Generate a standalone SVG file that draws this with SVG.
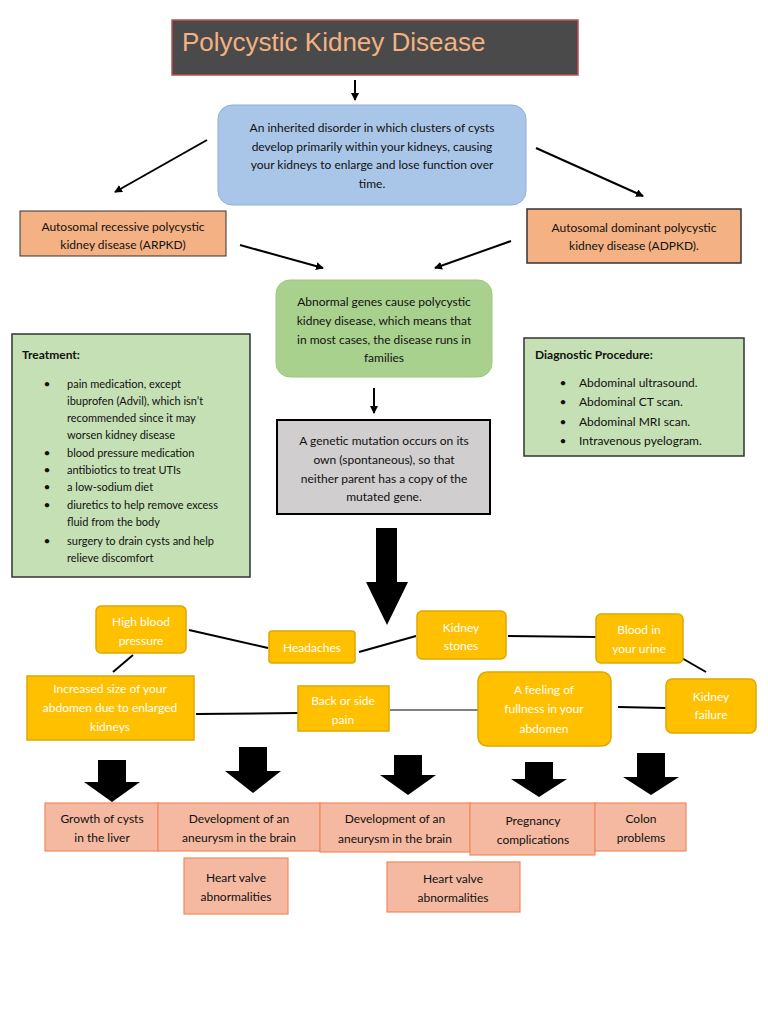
<svg xmlns="http://www.w3.org/2000/svg" width="768" height="1024" viewBox="0 0 768 1024">
<style>
text{font-family:Lato,"Open Sans","Liberation Sans",sans-serif;font-size:12px;fill:#111;text-anchor:middle}
.l{text-anchor:start}
.y text{fill:#fff}
.y rect{fill:#ffc000;stroke:#e0a800;stroke-width:1.5}
.p rect{fill:#f4b9a0;stroke:#ef8a5e;stroke-width:1.2}
.c line{stroke:#000;stroke-width:2}
.b{fill:#000}
</style>
<defs><marker id="ah" markerWidth="8" markerHeight="8" refX="7" refY="4" orient="auto" markerUnits="userSpaceOnUse"><path d="M0,0 L8,4 L0,8z" fill="#000"/></marker></defs>
<rect width="768" height="1024" fill="#fff"/>
<g id="title"><rect x="172" y="20" width="406" height="55" fill="#4a4a4a" stroke="#c0504d" stroke-width="1.5"/><text x="182" y="51" class="l" style="font-size:26px;fill:#f4b183;font-family:'Liberation Sans',sans-serif">Polycystic Kidney Disease</text></g>
<g id="connectors" class="c">
<line x1="355" y1="80" x2="355" y2="100" marker-end="url(#ah)"/>
<line x1="207" y1="140" x2="115" y2="192" marker-end="url(#ah)"/>
<line x1="536" y1="148" x2="643" y2="196" marker-end="url(#ah)"/>
<line x1="240" y1="245" x2="323" y2="268" marker-end="url(#ah)"/>
<line x1="511" y1="241" x2="435" y2="268" marker-end="url(#ah)"/>
<line x1="374" y1="388" x2="374" y2="413" marker-end="url(#ah)"/>
<line x1="189" y1="630" x2="268" y2="648"/><line x1="359" y1="652" x2="416" y2="636"/>
<line x1="508" y1="636" x2="596" y2="637"/><line x1="680" y1="657" x2="706" y2="672"/>
<line x1="133" y1="655" x2="113" y2="672"/><line x1="196" y1="714" x2="298" y2="713"/>
<line x1="390" y1="710" x2="478" y2="710" style="stroke-width:1"/><line x1="618" y1="707" x2="666" y2="708"/>
<path class="b" d="M376,528h21v54h11l-21,43l-21,-43h10z"/>
<path class="b" d="M98,760h28v22h14l-28,20l-28,-20h14z"/>
<path class="b" d="M239,747h28v24h14l-28,22l-28,-22h14z"/>
<path class="b" d="M394,755h28v20h14l-28,20l-28,-20h14z"/>
<path class="b" d="M525,762h28v17h14l-28,18l-28,-18h14z"/>
<path class="b" d="M637,753h28v24h14l-28,18l-28,-18h14z"/>
</g>
<g id="n1"><rect x="218" y="105" width="308" height="100" rx="14" fill="#a9c6e8" stroke="#8eb0dd"/>
<text x="372" y="132">An inherited disorder in which clusters of cysts</text><text x="372" y="151">develop primarily within your kidneys, causing</text><text x="372" y="169">your kidneys to enlarge and lose function over</text><text x="372" y="188">time.</text></g>
<g id="arpkd"><rect x="20" y="211" width="206" height="45" fill="#f4b183" stroke="#333"/><text x="123" y="231">Autosomal recessive polycystic</text><text x="123" y="249">kidney disease (ARPKD)</text></g>
<g id="adpkd"><rect x="527" y="209" width="214" height="54" fill="#f4b183" stroke="#333" stroke-width="1.5"/><text x="634" y="232">Autosomal dominant polycystic</text><text x="634" y="250">kidney disease (ADPKD).</text></g>
<g id="genes"><rect x="276" y="280" width="216" height="97" rx="14" fill="#a9d18e" stroke="#9cc77f"/><text x="384" y="306">Abnormal genes cause polycystic</text><text x="384" y="325">kidney disease, which means that</text><text x="384" y="344">in most cases, the disease runs in</text><text x="384" y="362">families</text></g>
<g id="mut"><rect x="277" y="420" width="213" height="94" fill="#d0cece" stroke="#000" stroke-width="2"/><text x="384" y="445">A genetic mutation occurs on its</text><text x="384" y="464">own (spontaneous), so that</text><text x="384" y="483">neither parent has a copy of the</text><text x="384" y="501">mutated gene.</text></g>
<g id="treat" style="font-size:11px"><rect x="12" y="334" width="238" height="243" fill="#c5e0b4" stroke="#333" stroke-width="1.5"/>
<text x="22" y="359" class="l" style="font-weight:bold">Treatment:</text>
<g style="font-size:11px">
<text x="47" y="388">•</text><text x="67" y="388" class="l" style="font-size:11px">pain medication, except</text>
<text x="67" y="405" class="l" style="font-size:11px">ibuprofen (Advil), which isn’t</text>
<text x="67" y="422" class="l" style="font-size:11px">recommended since it may</text>
<text x="67" y="439" class="l" style="font-size:11px">worsen kidney disease</text>
<text x="47" y="457">•</text><text x="67" y="457" class="l" style="font-size:11px">blood pressure medication</text>
<text x="47" y="474">•</text><text x="67" y="474" class="l" style="font-size:11px">antibiotics to treat UTIs</text>
<text x="47" y="491">•</text><text x="67" y="491" class="l" style="font-size:11px">a low-sodium diet</text>
<text x="47" y="509">•</text><text x="67" y="509" class="l" style="font-size:11px">diuretics to help remove excess</text>
<text x="67" y="526" class="l" style="font-size:11px">fluid from the body</text>
<text x="47" y="545">•</text><text x="67" y="545" class="l" style="font-size:11px">surgery to drain cysts and help</text>
<text x="67" y="562" class="l" style="font-size:11px">relieve discomfort</text></g></g>
<g id="diag"><rect x="524" y="338" width="220" height="118" fill="#c5e0b4" stroke="#333" stroke-width="1.5"/>
<text x="535" y="359" class="l" style="font-weight:bold">Diagnostic Procedure:</text>
<text x="563" y="387">•</text><text x="579" y="387" class="l">Abdominal ultrasound.</text>
<text x="563" y="406">•</text><text x="579" y="406" class="l">Abdominal CT scan.</text>
<text x="563" y="426">•</text><text x="579" y="426" class="l">Abdominal MRI scan.</text>
<text x="563" y="445">•</text><text x="579" y="445" class="l">Intravenous pyelogram.</text></g>
<g class="y">
<g id="hbp"><rect x="96" y="606" width="90" height="47" rx="5"/><text x="141" y="626">High blood</text><text x="141" y="645">pressure</text></g>
<g id="head"><rect x="269" y="631" width="86" height="32" rx="3"/><text x="312" y="652">Headaches</text></g>
<g id="stones"><rect x="417" y="611" width="89" height="48" rx="5"/><text x="461" y="632">Kidney</text><text x="461" y="650">stones</text></g>
<g id="urine"><rect x="596" y="614" width="87" height="49" rx="5"/><text x="639" y="634">Blood in</text><text x="639" y="653">your urine</text></g>
<g id="abd"><rect x="27" y="676" width="167" height="64"/><text x="110" y="693">Increased size of your</text><text x="110" y="712">abdomen due to enlarged</text><text x="110" y="731">kidneys</text></g>
<g id="back"><rect x="298" y="686" width="91" height="45"/><text x="343" y="705">Back or side</text><text x="343" y="724">pain</text></g>
<g id="full"><rect x="478" y="672" width="133" height="74" rx="9"/><text x="544" y="694">A feeling of</text><text x="544" y="713">fullness in your</text><text x="544" y="733">abdomen</text></g>
<g id="fail"><rect x="666" y="679" width="90" height="54" rx="6"/><text x="711" y="701">Kidney</text><text x="711" y="719">failure</text></g>
</g>
<g class="p">
<g id="liver"><rect x="45" y="803" width="113" height="48"/><text x="102" y="823">Growth of cysts</text><text x="102" y="842">in the liver</text></g>
<g id="an1"><rect x="158" y="803" width="162" height="48"/><text x="239" y="823">Development of an</text><text x="239" y="842">aneurysm in the brain</text></g>
<g id="an2"><rect x="320" y="803" width="150" height="49"/><text x="395" y="823">Development of an</text><text x="395" y="843">aneurysm in the brain</text></g>
<g id="preg"><rect x="470" y="803" width="125" height="52"/><text x="533" y="825">Pregnancy</text><text x="533" y="844">complications</text></g>
<g id="colon"><rect x="595" y="803" width="91" height="48"/><text x="641" y="823">Colon</text><text x="641" y="842">problems</text></g>
<g id="hv1"><rect x="184" y="858" width="104" height="56"/><text x="236" y="882">Heart valve</text><text x="236" y="901">abnormalities</text></g>
<g id="hv2"><rect x="387" y="862" width="133" height="50"/><text x="453" y="883">Heart valve</text><text x="453" y="902">abnormalities</text></g>
</g>
</svg>
